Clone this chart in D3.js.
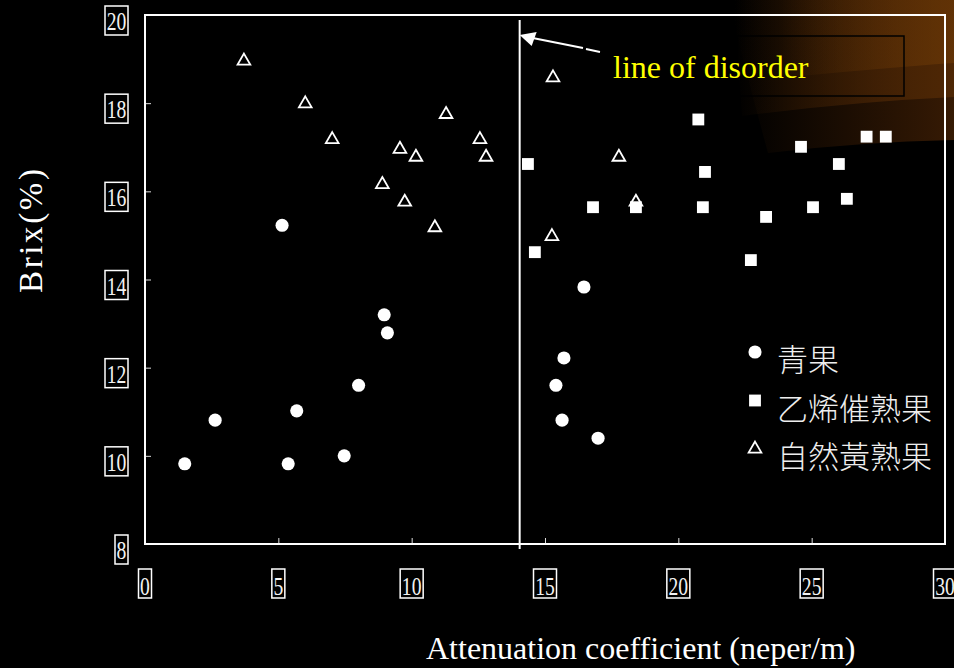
<!DOCTYPE html>
<html>
<head>
<meta charset="utf-8">
<script src="https://cdn.jsdelivr.net/npm/d3@7"></script>
<style>
html,body{margin:0;padding:0;background:#000;}
svg{display:block;}
</style>
</head>
<body>
<svg id="chart" width="954" height="668"></svg>
<script>
// ---- data ----
const xTicks = [0, 5, 10, 15, 20, 25, 30];
const yTicks = [8, 10, 12, 14, 16, 18, 20];

// 青果 (green fruit)
const greenX = [1.49, 2.63, 5.14, 5.37, 5.69, 7.47, 8.01, 8.97, 9.09, 15.41, 15.64, 15.71, 16.46, 16.99];
const greenY = [9.82, 10.81, 15.23, 9.82, 11.02, 10.0, 11.6, 13.2, 12.79, 11.6, 10.81, 12.22, 13.83, 10.4];

// 乙烯催熟果 (ethylene ripened)
const ethyX = [14.36, 14.62, 16.8, 18.41, 20.75, 21.0, 20.92, 22.72, 23.29, 24.6, 25.05, 26.02, 26.32, 27.06, 27.78];
const ethyY = [16.62, 14.62, 15.64, 15.64, 17.63, 16.44, 15.64, 14.44, 15.42, 17.01, 15.64, 16.62, 15.83, 17.24, 17.24];

// 自然黃熟果 (naturally ripened)
const natX = [3.71, 6.01, 7.02, 8.9, 9.56, 10.16, 9.74, 11.29, 10.87, 12.56, 12.79, 15.3, 17.77, 18.41, 15.26];
const natY = [18.98, 18.01, 17.2, 16.18, 16.98, 16.8, 15.78, 17.77, 15.2, 17.2, 16.8, 18.6, 16.8, 15.78, 15.0];

const seriesNames = ["青果", "乙烯催熟果", "自然黃熟果"];
const disorderX = 14.05;
const annotationText = "line of disorder";
const xTitle = "Attenuation coefficient (neper/m)";
const yTitle = "Brix(%)";

// ---- layout ----
const W = 954, H = 668;
const L = 145, R = 945, T = 15, B = 544;
const serif = "'Liberation Serif','Times New Roman',serif";
const cjk = "'Noto Sans CJK TC','Noto Sans CJK SC',sans-serif";

const svg = d3.select("#chart");
svg.append("rect").attr("width", W).attr("height", H).attr("fill", "#000");

// background glow (top right)
const defs = svg.append("defs");
function grad(id, color, x0, x1) {
  const g = defs.append("linearGradient").attr("id", id)
    .attr("gradientUnits", "userSpaceOnUse")
    .attr("x1", x0).attr("y1", 0).attr("x2", x1).attr("y2", 0);
  g.append("stop").attr("offset", 0).attr("stop-color", color).attr("stop-opacity", 0);
  g.append("stop").attr("offset", 1).attr("stop-color", color).attr("stop-opacity", 1);
}
grad("gA", "#361a04", 735, 954);
grad("gB", "#4e2705", 735, 954);
grad("gC", "#6e3a06", 780, 954);
const glow = svg.append("g");
glow.append("path").attr("d", "M728,0 H954 V140 Q860,142 768,153 Q748,80 728,0 Z").attr("fill", "url(#gA)");
glow.append("path").attr("d", "M733,0 H954 V97 Q850,102 742,116 Q738,60 733,0 Z").attr("fill", "url(#gB)");
glow.append("path").attr("d", "M740,0 H954 V63 Q880,68 760,80 Q748,35 740,0 Z").attr("fill", "url(#gC)").attr("opacity", 0.6);

// scales
const x = d3.scaleLinear().domain([0, 30]).range([L, R]);
const y = d3.scaleLinear().domain([8, 20]).range([B, T]);

// axes tick marks (inward)
const gx = svg.append("g").attr("transform", `translate(0,${B})`)
  .call(d3.axisBottom(x).tickValues(xTicks).tickSize(-6).tickFormat(""));
const gy = svg.append("g").attr("transform", `translate(${L},0)`)
  .call(d3.axisLeft(y).tickValues(yTicks).tickSize(-6).tickFormat(""));
[gx, gy].forEach(g => {
  g.select(".domain").remove();
  g.selectAll(".tick line").attr("stroke", "#ddd").attr("stroke-width", 1);
});

// frame
svg.append("rect").attr("x", L).attr("y", T).attr("width", R - L).attr("height", B - T)
  .attr("fill", "none").attr("stroke", "#fff").attr("stroke-width", 2);

// boxed tick labels
function boxLabel(g, txt, cx, baseline, boxTop) {
  const n = String(txt).length;
  const w = n * 10 + 3;
  g.append("rect").attr("x", cx - w / 2).attr("y", boxTop).attr("width", w).attr("height", 29)
    .attr("fill", "#000").attr("stroke", "#fff").attr("stroke-width", 1.5);
  g.append("text").attr("x", cx).attr("y", baseline).attr("text-anchor", "middle")
    .attr("font-family", serif).attr("font-size", 26).attr("fill", "#f2f2f2")
    .attr("textLength", n * 9.8).attr("lengthAdjust", "spacingAndGlyphs").text(txt);
}
const yl = svg.append("g");
yTicks.forEach(v => {
  const n = String(v).length;
  const w = n * 10 + 3;
  boxLabel(yl, v, 128 - w / 2, y(v) + 15, y(v) - 9);
});
const xl = svg.append("g");
xTicks.forEach(v => boxLabel(xl, v, x(v), 595, 569));

// disorder line
svg.append("line").attr("x1", x(disorderX)).attr("x2", x(disorderX)).attr("y1", 20).attr("y2", 549)
  .attr("stroke", "#fff").attr("stroke-width", 2);

// arrow
const ax = x(disorderX), ay = 35;
svg.append("path").attr("d", `M${ax + 13},${ay + 3} L583,48 M586,49 L600,52`)
  .attr("stroke", "#fff").attr("stroke-width", 2).attr("fill", "none");
svg.append("path").attr("d", `M${ax},${ay} L${ax + 17},${ay - 3} L${ax + 12},${ay + 11} Z`)
  .attr("fill", "#fff");

// annotation box and text
svg.append("rect").attr("x", 737).attr("y", 36).attr("width", 167).attr("height", 60)
  .attr("fill", "none").attr("stroke", "#000").attr("stroke-width", 1.5);
svg.append("text").attr("x", 613).attr("y", 78).attr("font-family", serif).attr("font-size", 32)
  .attr("fill", "#ffff00").text(annotationText);

// markers
const sym = {
  circle: d3.symbol().type(d3.symbolCircle).size(135),
  square: d3.symbol().type(d3.symbolSquare).size(140),
  tri: d3.symbol().type(d3.symbolTriangle).size(70)
};
const pts = svg.append("g");
pts.selectAll(".g").data(d3.zip(greenX, greenY)).join("path")
  .attr("d", sym.circle()).attr("fill", "#fff")
  .attr("transform", d => `translate(${x(d[0])},${y(d[1])})`);
pts.selectAll(".e").data(d3.zip(ethyX, ethyY)).join("path")
  .attr("d", sym.square()).attr("fill", "#fff")
  .attr("transform", d => `translate(${x(d[0])},${y(d[1])})`);
pts.selectAll(".n").data(d3.zip(natX, natY)).join("path")
  .attr("d", sym.tri()).attr("fill", "none").attr("stroke", "#fff").attr("stroke-width", 1.8)
  .attr("transform", d => `translate(${x(d[0])},${y(d[1]) + 1})`);

// legend
const lg = svg.append("g");
const legSyms = [sym.circle, sym.square, sym.tri];
seriesNames.forEach((name, i) => {
  const cy = 352 + i * 48.5;
  const p = lg.append("path").attr("d", legSyms[i]()).attr("transform", `translate(755,${cy})`);
  if (i === 2) p.attr("fill", "none").attr("stroke", "#fff").attr("stroke-width", 1.8);
  else p.attr("fill", "#fff");
  lg.append("text").attr("x", 777).attr("y", cy + 19).attr("font-family", cjk).attr("font-size", 31)
    .attr("font-weight", 300).attr("fill", "#eee").text(name);
});

// axis titles
svg.append("text").attr("x", 426).attr("y", 659).attr("font-family", serif).attr("font-size", 32)
  .attr("fill", "#fff").text(xTitle);
svg.append("text").attr("transform", "translate(42,231) rotate(-90)").attr("text-anchor", "middle")
  .attr("font-family", serif).attr("font-size", 33).attr("fill", "#fff")
  .attr("textLength", 124).attr("lengthAdjust", "spacing").text(yTitle);
</script>
</body>
</html>
